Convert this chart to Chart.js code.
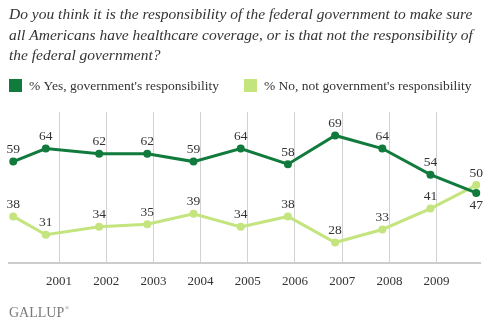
<!DOCTYPE html>
<html>
<head>
<meta charset="utf-8">
<script src="https://cdn.jsdelivr.net/npm/chart.js@4.4.1/dist/chart.umd.min.js"></script>
<style>
	html, body { margin: 0; padding: 0; background: #fff; }
	#wrap { width: 488px; height: 324px; }
</style>
</head>
<body>
<div id="wrap"><canvas id="chart-healthcare"></canvas></div>
<script>
// Question wording, one entry per printed line
const questionLines = [
	'Do you think it is the responsibility of the federal government to make sure',
	'all Americans have healthcare coverage, or is that not the responsibility of',
	'the federal government?',
];

// Year gridlines along the bottom
const yearTicks = [2001, 2002, 2003, 2004, 2005, 2006, 2007, 2008, 2009];

// Survey dates as decimal years
const surveyDates = [2000.03, 2000.72, 2001.85, 2002.87, 2003.85, 2004.85, 2005.85, 2006.85, 2007.85, 2008.87, 2009.84];

// % Yes / % No
const yesValues = [59, 64, 62, 62, 59, 64, 58, 69, 64, 54, 47];
const noValues = [38, 31, 34, 35, 39, 34, 38, 28, 33, 41, 50];

const serif = "'Liberation Serif', 'Times New Roman', serif";
const darkGreen = '#117a3d';
const lightGreen = '#c4e47e';
const textColor = '#333333';

const toPoints = (values) => values.map((v, i) => ({ x: surveyDates[i], y: v }));

// Numbers next to each point (above by default, below where listed)
const valueLabels = {
	id: 'valueLabels',
	afterDatasetsDraw(chart) {
		const ctx = chart.ctx;
		ctx.save();
		ctx.font = '13.5px ' + serif;
		ctx.fillStyle = textColor;
		ctx.textAlign = 'center';
		ctx.textBaseline = 'middle';
		chart.data.datasets.forEach((ds, i) => {
			const below = ds.labelsBelow || [];
			chart.getDatasetMeta(i).data.forEach((pt, j) => {
				const dy = below.includes(j) ? 13 : -12;
				ctx.fillText(String(ds.data[j].y), pt.x, pt.y + dy);
			});
		});
		ctx.restore();
	},
};

// Two-column legend with square swatches, plus the logo mark
const sideLegend = {
	id: 'sideLegend',
	afterDraw(chart) {
		const ctx = chart.ctx;
		const left = chart.chartArea.left;
		const cols = [left, chart.width / 2];
		ctx.save();
		ctx.font = '13.5px ' + serif;
		ctx.textBaseline = 'middle';
		ctx.textAlign = 'left';
		chart.data.datasets.forEach((ds, i) => {
			const x = cols[i];
			const y = 79;
			ctx.fillStyle = ds.borderColor;
			ctx.fillRect(x, y, 13, 13);
			ctx.fillStyle = textColor;
			ctx.fillText(ds.label, x + 20, y + 7);
		});

		// registered mark after the subtitle
		const sub = chart.options.plugins.subtitle;
		ctx.font = '14px ' + serif;
		const w = ctx.measureText(sub.text).width;
		ctx.font = '6px ' + serif;
		ctx.fillStyle = '#888888';
		ctx.fillText('®', chart.chartArea.left + w + 0.5, 308);
		ctx.restore();
	},
};

!(function () {
	const ctx = document.getElementById('chart-healthcare');

	new Chart(ctx, {
		type: 'line',
		data: {
			datasets: [
				{
					label: "% Yes, government's responsibility",
					data: toPoints(yesValues),
					borderColor: darkGreen,
					backgroundColor: darkGreen,
					borderWidth: 3,
					pointRadius: 2.5,
					pointHoverRadius: 2.5,
					labelsBelow: [10],
				},
				{
					label: "% No, not government's responsibility",
					data: toPoints(noValues),
					borderColor: lightGreen,
					backgroundColor: lightGreen,
					borderWidth: 3,
					pointRadius: 2.5,
					pointHoverRadius: 2.5,
				},
			],
		},
		options: {
			responsive: true,
			maintainAspectRatio: false,
			animation: false,
			clip: false,
			layout: {
				padding: { left: 9, right: 8, top: 0, bottom: 0 },
			},
			scales: {
				x: {
					type: 'linear',
					min: 1999.94,
					max: 2009.92,
					afterBuildTicks: (axis) => {
						axis.ticks = yearTicks.map((v) => ({ value: v }));
					},
					grid: {
						color: '#d2d2d2',
						lineWidth: 1,
						drawTicks: false,
					},
					border: {
						color: '#cccccc',
						width: 2,
					},
					ticks: {
						color: textColor,
						font: { family: serif, size: 13 },
						padding: 10,
						maxRotation: 0,
						autoSkip: false,
						callback: (v) => String(v),
					},
				},
				y: {
					display: false,
					min: 20,
					max: 78,
				},
			},
			plugins: {
				legend: { display: false },
				tooltip: { enabled: false },
				title: {
					display: true,
					align: 'start',
					text: questionLines,
					color: textColor,
					font: { family: serif, size: 15.5, style: 'italic', weight: 'normal', lineHeight: '20.5px' },
					padding: { top: 5, bottom: 45.5 },
				},
				subtitle: {
					display: true,
					position: 'bottom',
					align: 'start',
					text: 'GALLUP',
					color: '#7a7a7a',
					font: { family: serif, size: 14, weight: 'normal', lineHeight: '16px' },
					padding: { top: 6, bottom: 3 },
				},
			},
		},
		plugins: [valueLabels, sideLegend],
	});
})();
</script>
</body>
</html>
